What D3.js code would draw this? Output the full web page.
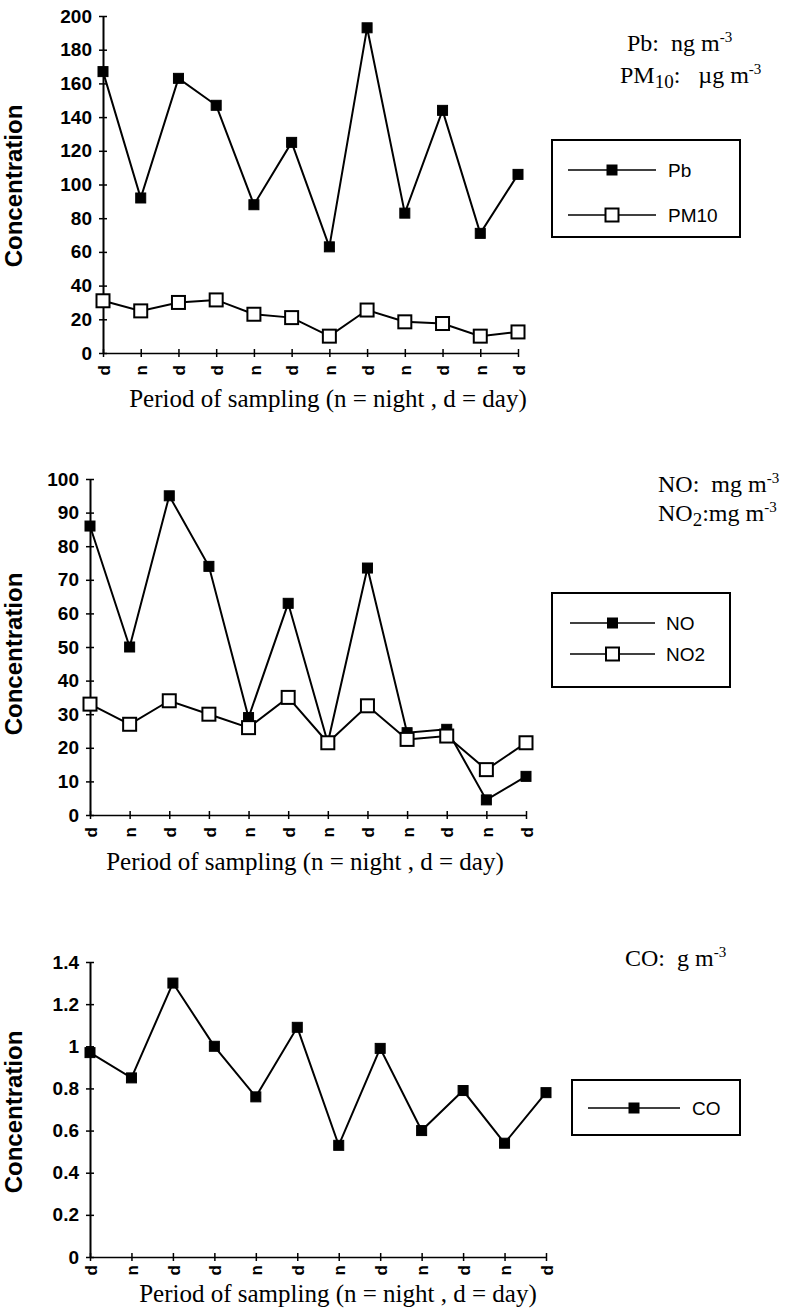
<!DOCTYPE html>
<html>
<head>
<meta charset="utf-8">
<script src="https://cdn.jsdelivr.net/npm/d3@7"></script>
<style>
body{margin:0;background:#fff;}
</style>
</head>
<body>
<div id="chart"></div>
<script>
// sampling periods (n = night, d = day)
var periods=["d","n","d","d","n","d","n","d","n","d","n","d"];

// Pb (ng m-3) and PM10 (ug m-3)
var pbValues=[167,92,163,147,88,125,63,193,83,144,71,106];
var pm10Values=[31,25,30,31.5,23,21,10,25.5,18.5,17.5,10,12.5];
var pbTicks=[0,20,40,60,80,100,120,140,160,180,200];

// NO and NO2 (mg m-3)
var noValues=[86,50,95,74,29,63,21.5,73.5,24.5,25.5,4.5,11.5];
var no2Values=[33,27,34,30,26,35,21.5,32.5,22.5,23.5,13.5,21.5];
var noTicks=[0,10,20,30,40,50,60,70,80,90,100];

// CO (g m-3)
var coValues=[0.97,0.85,1.3,1.0,0.76,1.09,0.53,0.99,0.6,0.79,0.54,0.78];
var coTicks=[0,0.2,0.4,0.6,0.8,1,1.2,1.4];

var width=800,
    height=1315;

var svg=d3.select("#chart")
    .append("svg")
    .attr("width",width)
    .attr("height",height);

var sansBold="'Liberation Sans', Arial, sans-serif";
var serif="'Liberation Serif', 'Times New Roman', serif";
var sp="\u00a0";

function drawMarker(g,x,y,filled){
    var s=filled?10:13;
    g.append("rect")
        .attr("x",x-s/2)
        .attr("y",y-s/2)
        .attr("width",s)
        .attr("height",s)
        .attr("fill",filled?"#000":"#fff")
        .attr("stroke","#000")
        .attr("stroke-width",filled?1:2);
}

function panel(p){
    var g=svg.append("g");

    var x=d3.scaleLinear()
        .domain([0,periods.length-1])
        .range([p.left,p.right]);

    var y=d3.scaleLinear()
        .domain([0,p.ticks[p.ticks.length-1]])
        .range([p.bottom,p.top]);

    // y axis
    var yAxis=g.append("g")
        .attr("transform","translate("+p.left+",0)")
        .call(d3.axisLeft(y).tickValues(p.ticks).tickSizeOuter(0).tickFormat(function(d){return String(d);}));
    yAxis.select(".domain").attr("stroke","#000").attr("stroke-width",2);
    yAxis.selectAll(".tick line").attr("x1",-4).attr("x2",4).attr("stroke-width",1.5);
    yAxis.selectAll(".tick text")
        .attr("x",-11)
        .attr("font-family",sansBold)
        .attr("font-weight","bold")
        .attr("font-size",19)
        .attr("fill","#000");

    // x axis
    var xAxis=g.append("g")
        .attr("transform","translate(0,"+p.bottom+")")
        .call(d3.axisBottom(x).tickValues(d3.range(periods.length)).tickSizeOuter(0).tickFormat(function(i){return periods[i];}));
    xAxis.select(".domain").attr("stroke","#000").attr("stroke-width",1.5);
    xAxis.selectAll(".tick line").attr("y1",-4).attr("y2",4).attr("stroke-width",1.5);
    xAxis.selectAll(".tick text")
        .attr("transform","rotate(-90)")
        .attr("text-anchor","end")
        .attr("x",-p.labelGap)
        .attr("y",0)
        .attr("dy","0.36em")
        .attr("font-family",sansBold)
        .attr("font-weight","bold")
        .attr("font-size",17)
        .attr("fill","#000");

    // lines and markers
    var line=d3.line()
        .x(function(d,i){return x(i);})
        .y(function(d){return y(d);});

    p.series.forEach(function(s){
        g.append("path")
            .attr("d",line(s.values))
            .attr("fill","none")
            .attr("stroke","#000")
            .attr("stroke-width",2);
    });
    p.series.forEach(function(s){
        s.values.forEach(function(v,i){
            drawMarker(g,x(i),y(v),s.filled);
        });
    });

    // axis titles
    g.append("text")
        .attr("transform","translate("+p.yTitleX+","+p.yTitleY+") rotate(-90)")
        .attr("text-anchor","middle")
        .attr("font-family",sansBold)
        .attr("font-weight","bold")
        .attr("font-size",24)
        .text("Concentration");

    g.append("text")
        .attr("x",p.xTitleX)
        .attr("y",p.xTitleY)
        .attr("text-anchor","middle")
        .attr("font-family",serif)
        .attr("font-size",25)
        .text("Period of sampling (n = night , d = day)");

    // units
    p.units.forEach(function(u){
        var t=g.append("text")
            .attr("x",u.x)
            .attr("y",u.y)
            .attr("font-family",serif)
            .attr("font-size",24);
        u.parts.forEach(function(part){
            var span=t.append("tspan").text(part.t);
            if(part.sup){span.attr("font-size",15).attr("baseline-shift","60%");}
            if(part.sub){span.attr("font-size",19).attr("baseline-shift","-25%");}
        });
    });

    // legend
    var L=p.legend;
    g.append("rect")
        .attr("x",L.x)
        .attr("y",L.y)
        .attr("width",L.w)
        .attr("height",L.h)
        .attr("fill","none")
        .attr("stroke","#000")
        .attr("stroke-width",2);
    p.series.forEach(function(s,i){
        var ry=L.rows[i];
        g.append("line")
            .attr("x1",L.lineX1)
            .attr("x2",L.lineX2)
            .attr("y1",ry)
            .attr("y2",ry)
            .attr("stroke","#000")
            .attr("stroke-width",1.5);
        drawMarker(g,(L.lineX1+L.lineX2)/2,ry,s.filled);
        g.append("text")
            .attr("x",L.textX)
            .attr("y",ry)
            .attr("dy","0.36em")
            .attr("font-family",sansBold)
            .attr("font-size",19)
            .text(s.name);
    });
}

panel({
    left:103,right:518,top:16,bottom:353,
    ticks:pbTicks,labelGap:12,
    series:[{name:"Pb",values:pbValues,filled:true},{name:"PM10",values:pm10Values,filled:false}],
    yTitleX:22,yTitleY:186,
    xTitleX:328,xTitleY:407,
    units:[
        {x:627,y:51,parts:[{t:"Pb:"+sp+sp+"ng m"},{t:"-3",sup:true}]},
        {x:620,y:83,parts:[{t:"PM"},{t:"10",sub:true},{t:":"+sp+sp+sp+"\u00b5g m"},{t:"-3",sup:true}]}
    ],
    legend:{x:552,y:140,w:188,h:97,rows:[170,215],lineX1:568,lineX2:656,textX:668}
});

panel({
    left:90,right:526,top:479,bottom:815,
    ticks:noTicks,labelGap:12,
    series:[{name:"NO",values:noValues,filled:true},{name:"NO2",values:no2Values,filled:false}],
    yTitleX:22,yTitleY:654,
    xTitleX:305,xTitleY:870,
    units:[
        {x:658,y:492,parts:[{t:"NO:"+sp+sp+"mg m"},{t:"-3",sup:true}]},
        {x:658,y:521,parts:[{t:"NO"},{t:"2",sub:true},{t:":mg m"},{t:"-3",sup:true}]}
    ],
    legend:{x:552,y:593,w:178,h:94,rows:[623,654],lineX1:570,lineX2:655,textX:666}
});

panel({
    left:90,right:546,top:962,bottom:1257,
    ticks:coTicks,labelGap:8,
    series:[{name:"CO",values:coValues,filled:true}],
    yTitleX:22,yTitleY:1112,
    xTitleX:338,xTitleY:1302,
    units:[
        {x:625,y:966,parts:[{t:"CO:"+sp+sp+"g m"},{t:"-3",sup:true}]}
    ],
    legend:{x:572,y:1080,w:168,h:55,rows:[1108],lineX1:588,lineX2:680,textX:692}
});
</script>
</body>
</html>
